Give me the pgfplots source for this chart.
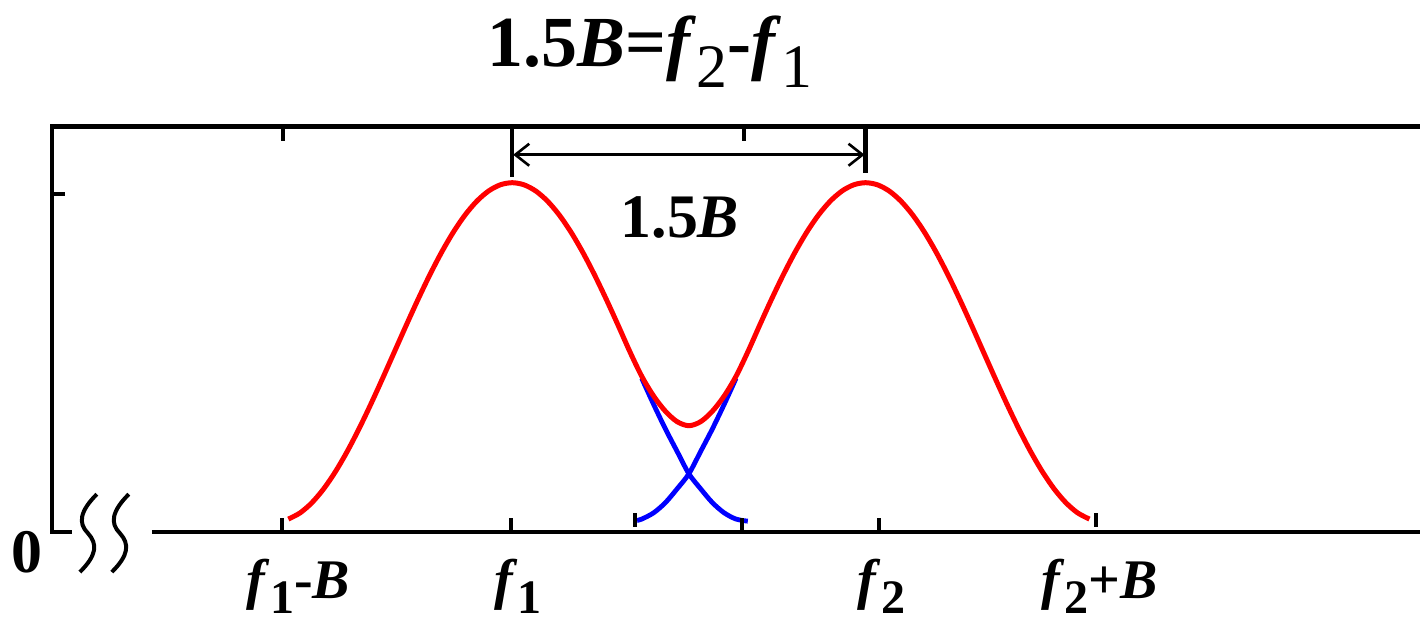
\documentclass[border=0pt]{standalone}
\usepackage{fontspec}
\setmainfont{Liberation Serif}
\usepackage{graphicx}
\usepackage{pgfplots}
\pgfplotsset{compat=1.18}
\usetikzlibrary{arrows.meta}

\newcommand{\sub}[1]{\raisebox{-0.28em}{\scalebox{0.86}{#1}}}

% raised-cosine spectra, f1 = 0, f2 = 1.5, frequency in units of B
\pgfplotstableread{
x y
-0.95 0.00616
-0.90 0.02447
-0.85 0.05450
-0.80 0.09549
-0.75 0.14645
-0.70 0.20611
-0.65 0.27300
-0.60 0.34549
-0.55 0.42178
-0.50 0.50000
-0.45 0.57822
-0.40 0.65451
-0.35 0.72700
-0.30 0.79389
-0.25 0.85355
-0.20 0.90451
-0.15 0.94550
-0.10 0.97553
-0.05 0.99384
0.00 1.00000
0.05 0.99384
0.10 0.97553
0.15 0.94550
0.20 0.90451
0.25 0.85355
0.30 0.79389
0.35 0.72700
0.40 0.65451
0.45 0.57822
0.50 0.50000
0.55 0.42794
0.60 0.36996
0.65 0.32500
0.70 0.29400
0.75 0.28200
0.80 0.29400
0.85 0.32500
0.90 0.36996
0.95 0.42794
1.00 0.50000
1.05 0.57822
1.10 0.65451
1.15 0.72700
1.20 0.79389
1.25 0.85355
1.30 0.90451
1.35 0.94550
1.40 0.97553
1.45 0.99384
1.50 1.00000
1.55 0.99384
1.60 0.97553
1.65 0.94550
1.70 0.90451
1.75 0.85355
1.80 0.79389
1.85 0.72700
1.90 0.65451
1.95 0.57822
2.00 0.50000
2.05 0.42178
2.10 0.34549
2.15 0.27300
2.20 0.20611
2.25 0.14645
2.30 0.09549
2.35 0.05450
2.40 0.02447
2.45 0.00616
}\sumspec

\pgfplotstableread{
x y
0.55 0.42178
0.60 0.34549
0.65 0.27300
0.70 0.20611
0.75 0.14000
0.80 0.09549
0.85 0.05450
0.90 0.02447
0.95 0.00616
1.00 0.00000
}\tailone

\pgfplotstableread{
x y
0.53 0.00222
0.55 0.00616
0.60 0.02447
0.65 0.05450
0.70 0.09549
0.75 0.14000
0.80 0.20611
0.85 0.27300
0.90 0.34549
0.95 0.42178
}\tailtwo

\begin{document}
\begin{tikzpicture}
\begin{axis}[
    hide axis,
    scale only axis,
    width=711pt, height=313.5pt,
    xmin=-2.1737, xmax=3.8517,
    ymin=-0.3097, ymax=1.5398,
    clip=false,
]
\path (rel axis cs:0,0) rectangle (rel axis cs:1,1);
\coordinate (TL) at (rel axis cs:0,1);
\addplot[blue, line width=2.4pt, smooth] table {\tailone};
\addplot[blue, line width=2.4pt, smooth] table {\tailtwo};
\addplot[red, line width=2.5pt, smooth] table {\sumspec};
\end{axis}

% frame, ticks and labels in pixel units of the reference
\begin{scope}[shift={(TL)}, x=0.5pt, y=-0.5pt]
\draw[line width=2.3pt] (1422,127) -- (52,127) -- (52,533) -- (72,533);
\draw[line width=2.3pt] (152,533) -- (1422,533);
\foreach \dx in {0,32}{
  \draw[line width=2pt, shift={(\dx,0)}]
    (97,495) .. controls (80,512) and (78,524) .. (88,534)
             .. controls (98,545) and (97,556) .. (80,573);
}
\draw[line width=2pt] (52,194) -- (65,194);
\foreach \tx in {283,745} \draw[line width=2pt] (\tx,127) -- (\tx,141);
\foreach \tx in {282,512,743,880} \draw[line width=2pt] (\tx,533) -- (\tx,519);
\foreach \tx in {636,1098} \draw[line width=2pt] (\tx,514) -- (\tx,528);
\draw[line width=2.2pt] (513,127) -- (513,177);
\draw[line width=2.2pt] (867,127) -- (867,173);
\draw[line width=1.3pt, {Straight Barb[length=7pt,width=11pt]}-{Straight Barb[length=7pt,width=11pt]}]
  (514,155) -- (866,155);

\node[anchor=base, inner sep=0pt, font=\fontsize{36}{40}\selectfont\bfseries]
  at (651,67) {1.5\textit{B}=\textit{f}\sub{\mdseries 2}-\textit{f}\sub{\mdseries 1}};
\node[anchor=base, inner sep=0pt, font=\fontsize{31}{36}\selectfont\bfseries]
  at (681,238) {1.5\textit{B}};
\node[anchor=base, inner sep=0pt, font=\fontsize{31}{36}\selectfont\bfseries]
  at (27,573) {0};
\begin{scope}[every node/.style={anchor=base, inner sep=0pt, font=\fontsize{28}{32}\selectfont\bfseries}]
\node at (299,599) {\textit{f}\sub{1}-\textit{B}};
\node at (519,599) {\textit{f}\sub{1}};
\node at (883,599) {\textit{f}\sub{2}};
\node at (1101,599) {\textit{f}\sub{2}+\textit{B}};
\end{scope}
\end{scope}
\end{tikzpicture}
\end{document}
